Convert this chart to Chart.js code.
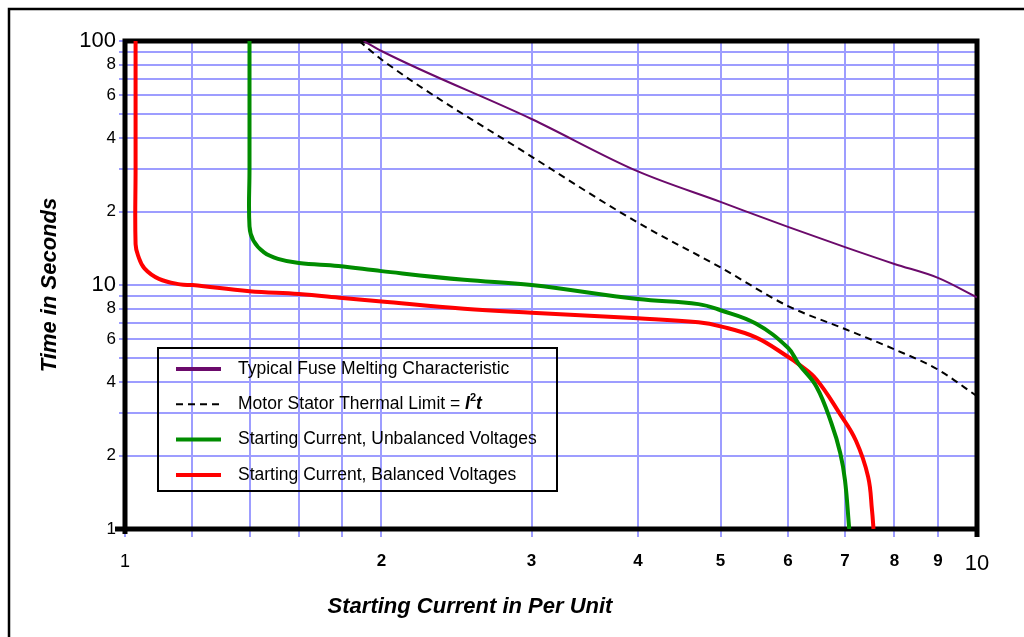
<!DOCTYPE html>
<html><head><meta charset="utf-8">
<script src="https://cdn.jsdelivr.net/npm/chart.js@4/dist/chart.umd.min.js"></script>
<style>
html,body{margin:0;padding:0;background:#fff;overflow:hidden;}
canvas{display:block;}
</style></head><body>
<canvas id="c" width="1024" height="637"></canvas>
<script>
// ---- data ----
const fuseI = [1.906, 2, 3, 4, 5, 6, 7, 8, 9, 10];
const fuseT = [100, 91, 47.9, 29.2, 21.9, 17.3, 14.3, 12.2, 10.7, 8.9];
const thermalI = [1.883, 2, 3, 4, 5, 6, 7, 8, 9, 10];
const thermalT = [100, 84, 33.6, 18.0, 11.8, 8.2, 6.6, 5.45, 4.5, 3.5];
const unbalI = [1.4, 1.4, 1.4, 1.415, 1.456, 1.512, 1.6, 1.78, 2, 2.5, 3, 4, 4.71, 5, 5.5, 6, 6.18, 6.48, 6.75, 6.91, 7, 7.08];
const unbalT = [100, 30, 17.4, 15.2, 13.6, 12.8, 12.3, 11.96, 11.4, 10.5, 10.0, 8.76, 8.35, 7.88, 6.95, 5.53, 4.73, 3.83, 2.7, 2.05, 1.58, 1.0];
const balI = [1.029, 1.029, 1.029, 1.036, 1.054, 1.096, 1.161, 1.2, 1.4, 1.6, 1.8, 2, 2.5, 3, 4, 4.71, 5, 5.5, 6, 6.18, 6.48, 6.91, 7.21, 7.45, 7.53, 7.56];
const balT = [100, 30, 14.7, 13.2, 11.7, 10.6, 10.06, 9.99, 9.43, 9.18, 8.85, 8.56, 8.0, 7.7, 7.3, 7.03, 6.77, 6.1, 5.08, 4.73, 4.1, 2.95, 2.3, 1.64, 1.19, 1.0];

const seriesLabels = [
  'Typical Fuse Melting Characteristic',
  'Motor Stator Thermal Limit = I²t',
  'Starting Current, Unbalanced Voltages',
  'Starting Current, Balanced Voltages'
];

const xGridValues = [1, 1.2, 1.4, 1.6, 1.8, 2, 3, 4, 5, 6, 7, 8, 9, 10];
const xTickValues = [1, 2, 3, 4, 5, 6, 7, 8, 9, 10];
const xTickTexts  = ['1', '2', '3', '4', '5', '6', '7', '8', '9', '10'];
const yGridValues = [1, 2, 3, 4, 5, 6, 7, 8, 9, 10, 20, 30, 40, 50, 60, 70, 80, 90, 100];
const yTickValues = [1, 2, 4, 6, 8, 10, 20, 40, 60, 80, 100];
const yTickTexts  = ['1', '2', '4', '6', '8', '10', '2', '4', '6', '8', '100'];

const xTitle = 'Starting Current in Per Unit';
const yTitle = 'Time in Seconds';

// ---- helpers ----
const FONT = '"Liberation Sans", Arial, Helvetica, sans-serif';
const pts = (xs, ys) => xs.map((x, i) => ({ x: x, y: ys[i] }));
const labelFor = (vals, texts) => (value) => {
  const i = vals.findIndex(v => Math.abs(v - value) < 1e-9);
  return i >= 0 ? texts[i] : '';
};

const framePlugin = {
  id: 'plotFrame',
  beforeDraw(chart) {
    const ctx = chart.ctx;
    ctx.save();
    ctx.fillStyle = '#fff';
    ctx.fillRect(0, 0, chart.width, chart.height);
    ctx.strokeStyle = '#000';
    ctx.lineWidth = 2.5;
    ctx.strokeRect(9, 9, chart.width + 60, chart.height + 60);
    ctx.restore();
  },
  beforeDatasetsDraw(chart) {
    const { ctx, chartArea: a } = chart;
    ctx.save();
    ctx.strokeStyle = '#000';
    ctx.lineWidth = 5;
    ctx.beginPath();
    ctx.moveTo(a.left - 10, a.bottom); ctx.lineTo(a.right + 2.5, a.bottom);
    ctx.moveTo(a.left, a.top - 2.5); ctx.lineTo(a.left, a.bottom + 5);
    ctx.moveTo(a.left - 2.5, a.top); ctx.lineTo(a.right + 2.5, a.top);
    ctx.moveTo(a.right, a.top - 2.5); ctx.lineTo(a.right, a.bottom + 8);
    ctx.stroke();
    ctx.restore();
  }
};

const xTitlePlugin = {
  id: 'xTitleText',
  afterDraw(chart, args, opts) {
    const { ctx, chartArea: a } = chart;
    ctx.save();
    ctx.fillStyle = '#000';
    ctx.font = 'italic bold 22px ' + FONT;
    ctx.textAlign = 'center';
    ctx.textBaseline = 'middle';
    ctx.fillText(chart.options.scales.x.title.text, a.left + opts.dx, a.bottom + opts.dy);
    ctx.restore();
  }
};

const boxLegendPlugin = {
  id: 'boxLegend',
  afterDraw(chart, args, o) {
    const ctx = chart.ctx;
    const a = chart.chartArea;
    const bx = a.left + o.x, by = o.y;
    ctx.save();
    ctx.strokeStyle = '#000';
    ctx.lineWidth = 2;
    ctx.strokeRect(bx, by, o.w, o.h);
    chart.data.datasets.forEach((ds, i) => {
      const y = by + o.firstRow + i * o.rowGap;
      ctx.beginPath();
      ctx.strokeStyle = ds.borderColor;
      ctx.lineWidth = ds.legendLineWidth || ds.borderWidth;
      ctx.setLineDash(ds.borderDash || []);
      ctx.moveTo(bx + o.sampleX, y);
      ctx.lineTo(bx + o.sampleX + o.sampleLen, y);
      ctx.stroke();
      ctx.setLineDash([]);
      ctx.fillStyle = '#000';
      ctx.textBaseline = 'middle';
      ctx.textAlign = 'left';
      ctx.font = o.fontSize + 'px ' + FONT;
      let tx = bx + o.textX;
      const cut = ds.label.indexOf('= ');
      if (cut >= 0) {
        const pre = ds.label.slice(0, cut + 2);
        ctx.fillText(pre, tx, y);
        tx += ctx.measureText(pre).width;
        for (const ch of ds.label.slice(cut + 2)) {
          if (ch === '²') {
            ctx.font = 'bold ' + Math.round(o.fontSize * 0.6) + 'px ' + FONT;
            ctx.fillText('2', tx, y - o.fontSize * 0.35);
          } else {
            ctx.font = 'italic bold ' + o.fontSize + 'px ' + FONT;
            ctx.fillText(ch, tx, y);
          }
          tx += ctx.measureText(ch === '²' ? '2' : ch).width;
        }
      } else {
        ctx.fillText(ds.label, tx, y);
      }
    });
    ctx.restore();
  }
};

const gridColor = '#9d9dff';

new Chart(document.getElementById('c'), {
  type: 'line',
  data: {
    datasets: [
      { label: seriesLabels[0], data: pts(fuseI, fuseT), borderColor: '#6b0a6b', borderWidth: 2, legendLineWidth: 4, cubicInterpolationMode: 'monotone' },
      { label: seriesLabels[1], data: pts(thermalI, thermalT), borderColor: '#000', borderWidth: 2, borderDash: [7, 5], legendLineWidth: 2, cubicInterpolationMode: 'monotone' },
      { label: seriesLabels[2], data: pts(unbalI, unbalT), borderColor: '#008c00', borderWidth: 4, tension: 0.4 },
      { label: seriesLabels[3], data: pts(balI, balT), borderColor: '#ff0000', borderWidth: 4, tension: 0.4 }
    ]
  },
  options: {
    responsive: false,
    animation: false,
    devicePixelRatio: 1,
    elements: { point: { radius: 0 } },
    layout: { padding: { top: 41, right: 47, left: 0, bottom: 0 } },
    plugins: {
      legend: { display: false },
      tooltip: { enabled: false },
      xTitleText: { dx: 345, dy: 78 },
      boxLegend: { x: 33, y: 348, w: 399, h: 143, firstRow: 21, rowGap: 35.3,
                   sampleX: 18, sampleLen: 45, textX: 80, fontSize: 17.5 }
    },
    scales: {
      x: {
        type: 'logarithmic',
        min: 1, max: 10,
        afterBuildTicks: (s) => { s.ticks = xGridValues.map(v => ({ value: v })); },
        afterFit: (s) => { s.height = 108; },
        grid: { color: gridColor, lineWidth: 2, tickColor: gridColor, tickLength: 8, drawTicks: true },
        border: { display: false },
        ticks: {
          autoSkip: false, maxRotation: 0, minRotation: 0, padding: 14, color: '#000',
          callback: labelFor(xTickValues, xTickTexts),
          font: (c) => {
            const v = c.tick ? c.tick.value : 0;
            if (v === 10) return { family: FONT, size: 22 };
            if (v === 1) return { family: FONT, size: 18 };
            return { family: FONT, size: 17, weight: 'bold' };
          }
        },
        title: { display: false, text: xTitle }
      },
      y: {
        type: 'logarithmic',
        min: 1, max: 100,
        afterBuildTicks: (s) => { s.ticks = yGridValues.map(v => ({ value: v })); },
        afterFit: (s) => { s.width = 125; },
        grid: { color: gridColor, lineWidth: 2, tickColor: gridColor, tickLength: 6, drawTicks: true },
        border: { display: false },
        ticks: {
          autoSkip: false, padding: 3, color: '#000',
          callback: labelFor(yTickValues, yTickTexts),
          font: (c) => {
            const v = c.tick ? c.tick.value : 0;
            if (v === 10 || v === 100) return { family: FONT, size: 22 };
            return { family: FONT, size: 17 };
          }
        },
        title: {
          display: true, text: yTitle, color: '#000',
          font: { family: FONT, size: 22, weight: 'bold', style: 'italic' },
          padding: { top: 37, bottom: 0 }
        }
      }
    }
  },
  plugins: [framePlugin, xTitlePlugin, boxLegendPlugin]
});
</script>
</body></html>
